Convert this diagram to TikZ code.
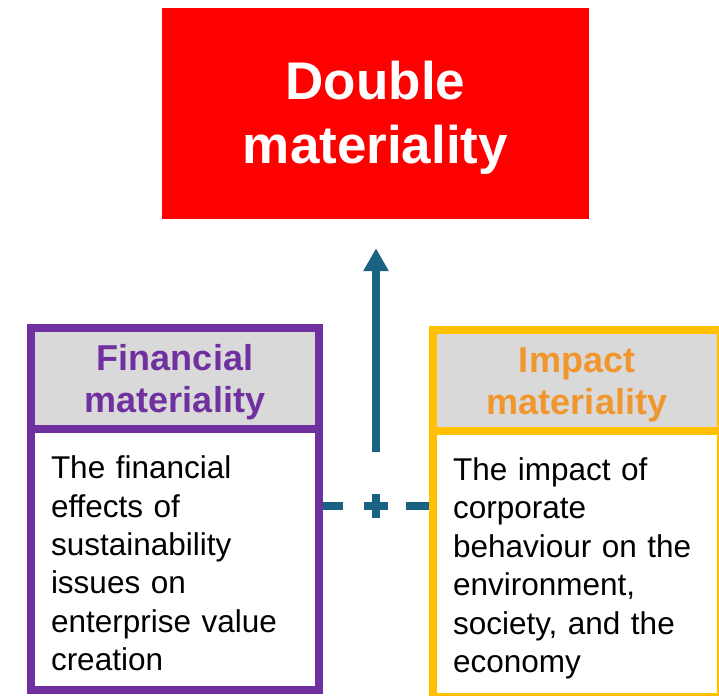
\documentclass[tikz,border=0pt]{standalone}
\usepackage{fontspec}
\setmainfont{Liberation Sans}
\usetikzlibrary{arrows.meta}
\definecolor{mred}{HTML}{FF0000}
\definecolor{mpurple}{HTML}{7030A0}
\definecolor{myellow}{HTML}{FFC000}
\definecolor{morange}{HTML}{F0962D}
\definecolor{mgray}{HTML}{D9D9D9}
\definecolor{mblue}{HTML}{1A6283}
\begin{document}
\begin{tikzpicture}[x=1pt,y=-1pt,
  titlebox/.style={rectangle, fill=mred, minimum width=427pt, minimum height=211pt, inner sep=0pt},
  titletext/.style={align=center, text=white, inner sep=0pt, font=\bfseries\fontsize{53}{64}\selectfont},
  headbox/.style={rectangle, draw=#1, line width=8pt, fill=mgray, minimum width=288pt, inner sep=0pt},
  headtext/.style={align=center, inner sep=0pt, text=#1, font=\bfseries\fontsize{36}{42}\selectfont},
  bodybox/.style={rectangle, draw=#1, line width=8pt, fill=white, minimum width=288pt, inner sep=0pt},
  bodytext/.style={text width=248pt, inner sep=0pt, align=left, font=\fontsize{31.5}{38.4}\selectfont},
  flow/.style={draw=mblue, line width=8pt},
  plusnode/.style={rectangle, minimum size=24pt, inner sep=0pt,
    path picture={\draw[mblue, line width=8pt]
      (path picture bounding box.north) -- (path picture bounding box.south)
      (path picture bounding box.west) -- (path picture bounding box.east);}}
]
\useasboundingbox (0,0) rectangle (719,695);
\clip (0,0) rectangle (719,695);

\node[titlebox] (title) at (375.5,113.5) {};
\node[titletext, yshift=-4pt] (titlet) at (title.center) {Double\\materiality};

\node[bodybox=mpurple, minimum height=261pt] (finbody) at (175,559.5) {};
\node[bodytext, yshift=-4pt] (finbodyt) at (finbody.center)
  {The financial\\effects of\\sustainability\\issues on\\enterprise value\\creation};
\node[headbox=mpurple, minimum height=101pt] (finhead) at (175,378.5) {};
\node[headtext=mpurple, yshift=-4pt] (finheadt) at (finhead.center) {Financial\\materiality};

\node[bodybox=myellow, minimum height=266.5pt] (impbody) at (577,563.75) {};
\node[bodytext, yshift=-4.5pt] (impbodyt) at (impbody.center)
  {The impact of\\corporate\\behaviour on the\\environment,\\society, and the\\economy};
\node[headbox=myellow, minimum height=100.5pt] (imphead) at (577,380.25) {};
\node[headtext=morange, yshift=-5pt] (impheadt) at (imphead.center) {Impact\\materiality};

\node[plusnode] (plus) at (376,506) {};

\draw[flow, shorten >=21pt] (finbody.east |- plus) -- (plus.west);
\draw[flow, shorten <=18pt] (plus.east) -- (impbody.west |- plus);
\draw[flow, -{Triangle[width=24pt,length=23pt]}, shorten <=42pt, shorten >=29pt]
  (plus.north) -- (plus |- title.south);
\end{tikzpicture}
\end{document}
